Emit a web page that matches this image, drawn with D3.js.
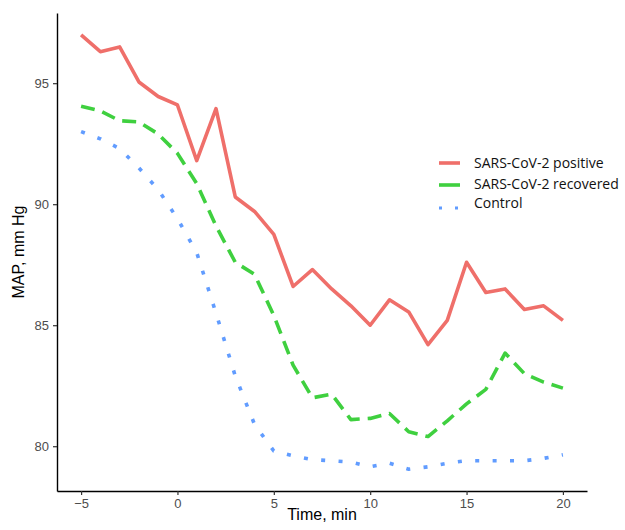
<!DOCTYPE html>
<html>
<head>
<meta charset="utf-8">
<script src="https://cdn.jsdelivr.net/npm/d3@7"></script>
<style>
  body { margin: 0; background: #fff; }
  svg { display: block; }
</style>
</head>
<body>
<div id="chart"></div>
<script>
const time = d3.range(-5, 21);
const positive = [97.0, 96.3, 96.5, 95.05, 94.45, 94.1, 91.8, 93.95, 90.3, 89.7, 88.75, 86.6, 87.3, 86.5, 85.8, 85.0, 86.05, 85.55, 84.2, 85.2, 87.6, 86.35, 86.5, 85.65, 85.8, 85.2];
const recovered = [94.05, 93.85, 93.45, 93.4, 92.9, 92.1, 90.85, 89.1, 87.6, 87.1, 85.4, 83.35, 82.0, 82.15, 81.1, 81.15, 81.35, 80.6, 80.4, 81.05, 81.75, 82.35, 83.85, 83.0, 82.65, 82.4];
const control = [93.0, 92.7, 92.3, 91.5, 90.6, 89.4, 88.0, 85.5, 82.9, 80.9, 79.8, 79.6, 79.45, 79.4, 79.35, 79.15, 79.3, 79.05, 79.15, 79.3, 79.4, 79.4, 79.4, 79.4, 79.5, 79.65];
const seriesNames = ["SARS-CoV-2 positive", "SARS-CoV-2 recovered", "Control"];
const xTicks = [-5, 0, 5, 10, 15, 20];
const yTicks = [80, 85, 90, 95];

const width = 625, height = 530;
const plotLeft = 57, plotRight = 587, plotTop = 13, plotBottom = 491;

const svg = d3.select("#chart").append("svg")
    .attr("width", width)
    .attr("height", height);

const x = d3.scaleLinear().domain([-6.25, 21.25]).range([plotLeft, plotRight]);
const y = d3.scaleLinear().domain([78.15, 97.9]).range([plotBottom, plotTop]);

const series = [
    {name: seriesNames[0], values: positive, color: "#ef6f6a", dash: null},
    {name: seriesNames[1], values: recovered, color: "#3fd03f", dash: "14,8"},
    {name: seriesNames[2], values: control, color: "#619cff", dash: "4,13.4"}
];

const line = d3.line()
    .x((d, i) => x(time[i]))
    .y(d => y(d));

svg.selectAll("path.series")
    .data(series)
    .enter().append("path")
    .attr("class", "series")
    .attr("d", d => line(d.values))
    .attr("fill", "none")
    .attr("stroke", d => d.color)
    .attr("stroke-width", 3.6)
    .attr("stroke-linejoin", "round")
    .attr("stroke-dasharray", d => d.dash);

// axes
let xAxis = svg.append("g")
    .attr("transform", "translate(0," + plotBottom + ")")
    .call(d3.axisBottom(x).tickValues(xTicks).tickSize(4).tickPadding(4).tickSizeOuter(0));
let yAxis = svg.append("g")
    .attr("transform", "translate(" + plotLeft + ",0)")
    .call(d3.axisLeft(y).tickValues(yTicks).tickSize(4).tickPadding(4).tickSizeOuter(0));

[xAxis, yAxis].forEach(function(a) {
    a.select(".domain").attr("stroke", "#000").attr("stroke-width", 1.4);
    a.selectAll(".tick line").attr("stroke", "#333").attr("stroke-width", 1.2);
    a.selectAll(".tick text")
        .attr("fill", "#4d4d4d")
        .attr("font-family", "Liberation Sans, Arial, sans-serif")
        .attr("font-size", "13px");
});

svg.append("text")
    .attr("x", (plotLeft + plotRight) / 2)
    .attr("y", 520)
    .attr("text-anchor", "middle")
    .attr("font-family", "Liberation Sans, Arial, sans-serif")
    .attr("font-size", "16px")
    .text("Time, min");

svg.append("text")
    .attr("transform", "translate(24," + (plotTop + plotBottom) / 2 + ") rotate(-90)")
    .attr("text-anchor", "middle")
    .attr("font-family", "Liberation Sans, Arial, sans-serif")
    .attr("font-size", "16px")
    .text("MAP, mm Hg");

// legend
const legendRows = [163, 185, 208];
const legendText = [168, 189, 208];
const legend = svg.append("g");
series.forEach(function(s, i) {
    legend.append("line")
        .attr("x1", 439).attr("x2", i === 2 ? 462 : 460)
        .attr("y1", legendRows[i]).attr("y2", legendRows[i])
        .attr("stroke", s.color)
        .attr("stroke-width", i === 2 ? 3 : 3.6)
        .attr("stroke-dasharray", i === 2 ? "3,13" : null);
    legend.append("text")
        .attr("x", 474)
        .attr("y", legendText[i])
        .attr("font-family", "Open Sans, Noto Sans, sans-serif")
        .attr("font-size", "14px")
        .attr("fill", "#111")
        .text(s.name);
});
</script>
</body>
</html>
